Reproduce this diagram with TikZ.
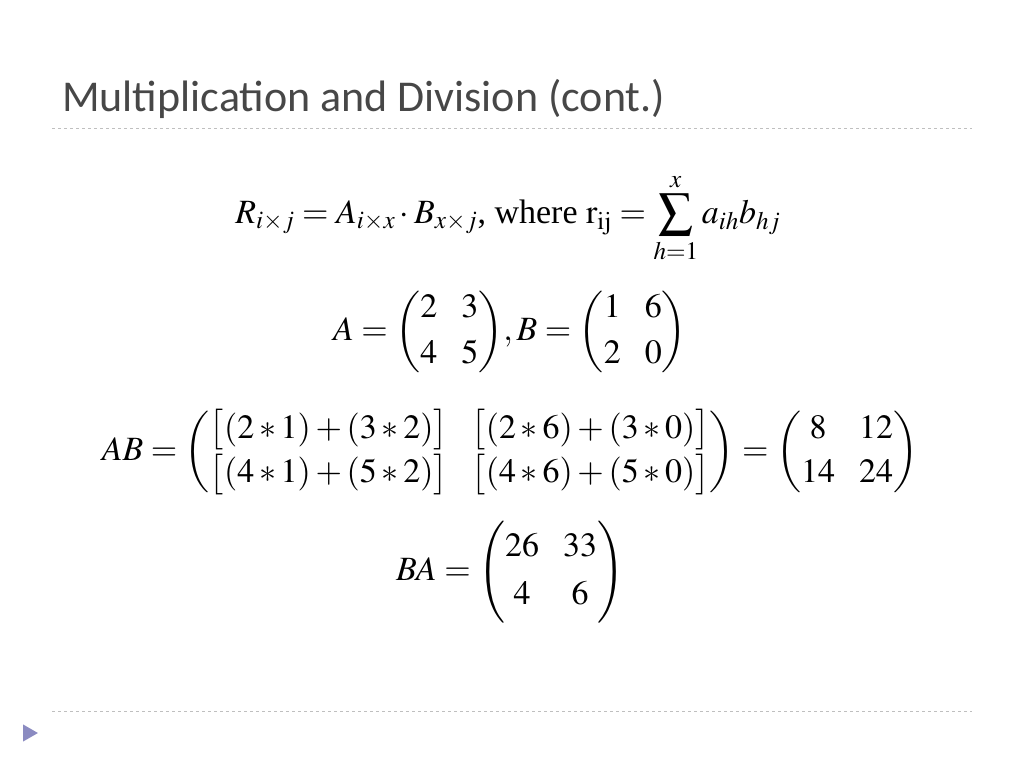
\documentclass[tikz,border=0pt]{standalone}
\usepackage{amsmath}
\usepackage{mathptmx}
\usepackage{fontspec}
\setmainfont{Liberation Serif}
\newfontfamily\titlefont{Carlito}
\usetikzlibrary{shapes.geometric}
\begin{document}
\begin{tikzpicture}[x=1pt,y=-1pt,
  eq/.style={inner sep=0pt,font=\fontsize{34}{40}\selectfont},
  rule/.style={draw=black!25,dashed,line width=0.8pt}]
\useasboundingbox (0,0) rectangle (1024,768);
\setlength{\arraycolsep}{12pt}
\node[anchor=base west,inner sep=0pt,text=black!72,font=\titlefont\fontsize{44}{50}\selectfont] (title) at (62,111) {Multiplication and Division (cont.)};
\coordinate (r1a) at (52,128); \coordinate (r1b) at (972,128);
\coordinate (r2a) at (52,711); \coordinate (r2b) at (972,711);
\draw[rule] (r1a) -- (r1b);
\draw[rule] (r2a) -- (r2b);
\node[fill=blue!30!gray!70,draw=none,regular polygon,regular polygon sides=3,shape border rotate=-90,inner sep=3.5pt] (bul) at (28,733) {};
\node[eq] (e1) at (508,218) {$R_{i\times j}=A_{i\times x}\cdot B_{x\times j}$, where $\mathrm{r_{ij}}=\displaystyle\sum_{h=1}^{x}a_{ih}b_{hj}$};
\node[eq] (e2) at (510,332) {$A=\begin{pmatrix}2&3\\[6pt]4&5\end{pmatrix}\!,B=\begin{pmatrix}1&6\\[6pt]2&0\end{pmatrix}$};
\node[eq] (e3) at (510,452) {$AB=\begin{pmatrix}\bigl[(2*1)+(3*2)\bigr]&\bigl[(2*6)+(3*0)\bigr]\\[4pt]\bigl[(4*1)+(5*2)\bigr]&\bigl[(4*6)+(5*0)\bigr]\end{pmatrix}=\begin{pmatrix}8&12\\[4pt]14&24\end{pmatrix}$};
\node[eq] (e4) at (510,572) {$BA=\begin{pmatrix}26&33\\[8pt]4&6\end{pmatrix}$};
\end{tikzpicture}
\end{document}
